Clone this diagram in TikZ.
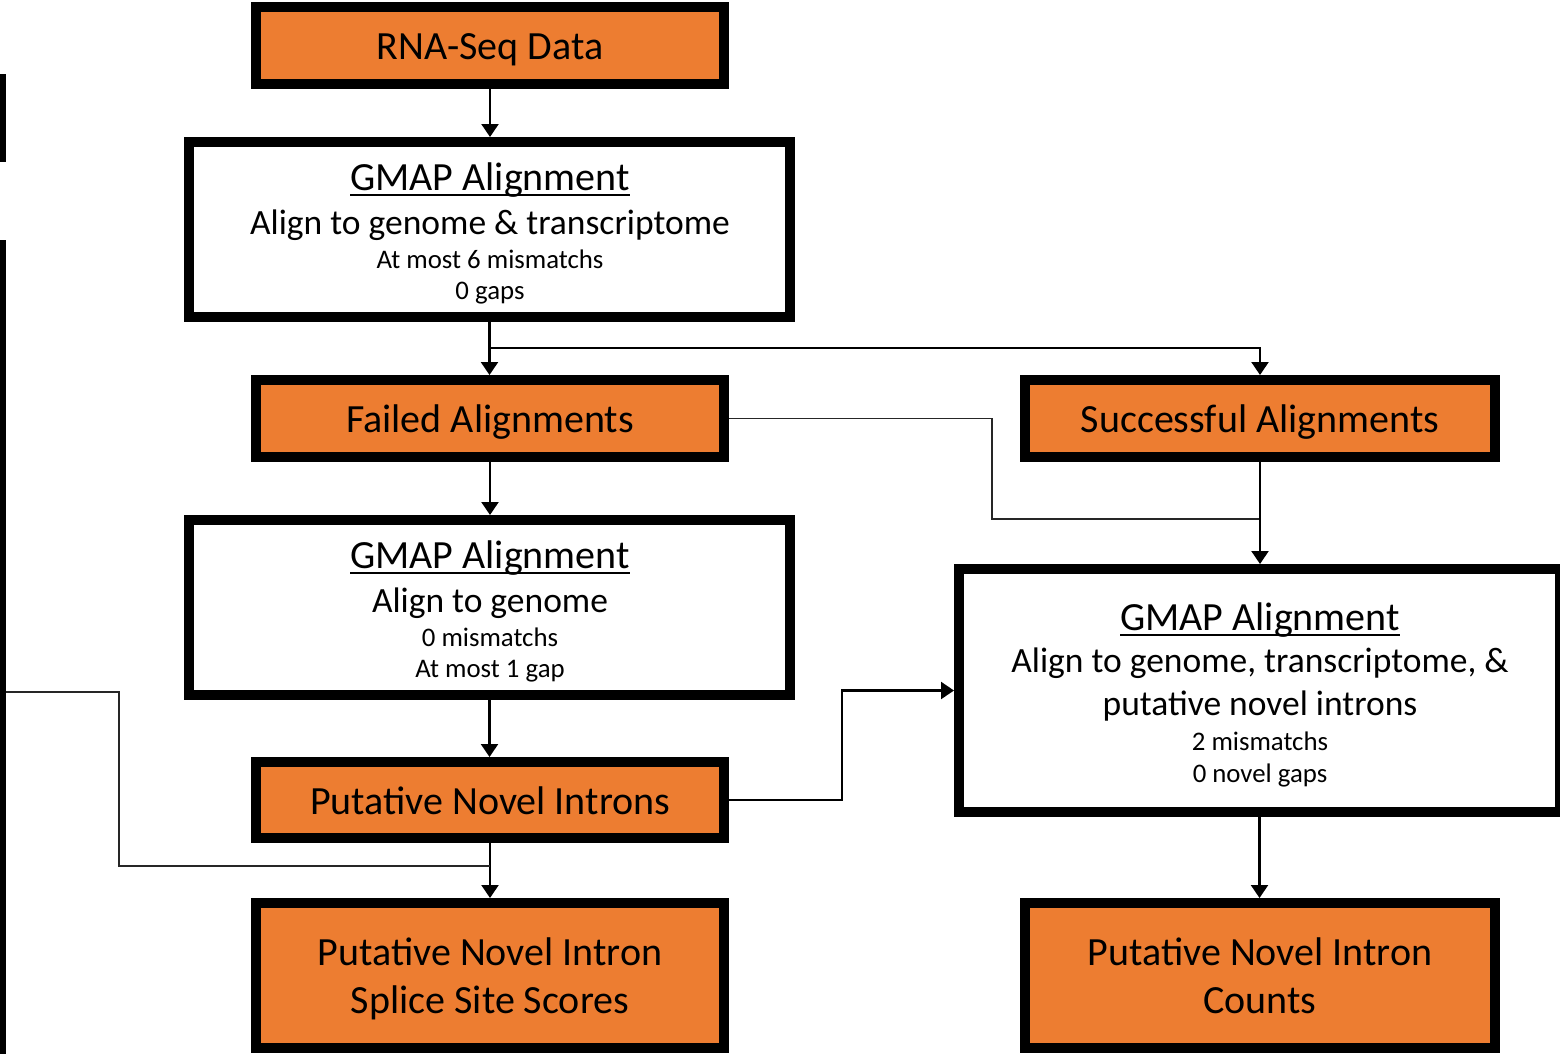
\documentclass[tikz,border=0pt]{standalone}
\usepackage{fontspec}
\setmainfont{Carlito}
\usetikzlibrary{arrows.meta}
\definecolor{boxorange}{HTML}{ED7D31}
\newcommand{\bigtxt}{\fontsize{40}{48}\selectfont}
\newcommand{\midtxt}{\fontsize{35.5}{43}\selectfont}
\newcommand{\smalltxt}{\fontsize{26.8}{32}\selectfont}
\tikzset{
  flowbox/.style={draw=black, line width=10pt, inner sep=0pt, rectangle},
  orangebox/.style={flowbox, fill=boxorange},
  whitebox/.style={flowbox, fill=white},
  btext/.style={anchor=base, inner sep=0pt, font=\bigtxt},
  mtext/.style={anchor=base, inner sep=0pt, font=\midtxt},
  stext/.style={anchor=base, inner sep=0pt, font=\smalltxt},
  ulline/.style={line width=2pt},
  arr/.style={line width=2.2pt, -{Triangle[length=13pt,width=17pt]}},
  thinline/.style={line width=1.4pt, black!85},
}
\begin{document}
\begin{tikzpicture}[x=1pt,y=-1pt]
\useasboundingbox (0,0) rectangle (1560,1053);
% partial shapes cut at left edge
\fill[black] (0,74) rectangle (6,162);
\fill[black] (0,240) rectangle (6,1060);
\coordinate (lft) at (6,692);
% boxes
\node[orangebox, minimum width=468pt, minimum height=77pt] (rna) at (490,45.5) {};
\node[whitebox, minimum width=601pt, minimum height=175pt] (g1) at (489.5,229.5) {};
\node[orangebox, minimum width=468pt, minimum height=77pt] (fail) at (490,418.5) {};
\node[orangebox, minimum width=470pt, minimum height=77pt] (succ) at (1260,418.5) {};
\node[whitebox, minimum width=601pt, minimum height=175pt] (g2) at (489.5,607.5) {};
\node[orangebox, minimum width=468pt, minimum height=76pt] (pni) at (490,800) {};
\node[orangebox, minimum width=468pt, minimum height=145pt] (scores) at (490,975.5) {};
\node[orangebox, minimum width=470pt, minimum height=145pt] (counts) at (1260,975.5) {};
\node[whitebox, minimum width=601pt, minimum height=243pt] (g3) at (1259.5,690.5) {};
% texts
\node[btext] (trna) at (490,59) {RNA-Seq Data};
\node[btext] (tg1a) at (490,190) {GMAP Alignment};
\node[mtext] (tg1b) at (490,234) {Align to genome \& transcriptome};
\node[stext] (tg1c) at (490,268) {At most 6 mismatchs};
\node[stext] (tg1d) at (490,299) {0 gaps};
\node[btext] (tfail) at (490,432) {Failed Alignments};
\node[btext] (tsucc) at (1260,432) {Successful Alignments};
\node[btext] (tg2a) at (490,568) {GMAP Alignment};
\node[mtext] (tg2b) at (490,612) {Align to genome};
\node[stext] (tg2c) at (490,646) {0 mismatchs};
\node[stext] (tg2d) at (490,677) {At most 1 gap};
\node[btext] (tpni) at (490,814) {Putative Novel Introns};
\node[btext] (tg3a) at (1260,630) {GMAP Alignment};
\node[mtext] (tg3b) at (1260,672) {Align to genome, transcriptome, \&};
\node[mtext] (tg3c) at (1260,715) {putative novel introns};
\node[stext] (tg3d) at (1260,750) {2 mismatchs};
\node[stext] (tg3e) at (1260,782) {0 novel gaps};
\node[btext] (tsc1) at (490,965) {Putative Novel Intron};
\node[btext] (tsc2) at (490,1013) {Splice Site Scores};
\node[btext] (tco1) at (1260,965) {Putative Novel Intron};
\node[btext] (tco2) at (1260,1013) {Counts};
% underlines of headings
\foreach \h in {tg1a,tg2a,tg3a}
  \draw[ulline] ([yshift=-5pt]\h.base west) -- ([yshift=-5pt]\h.base east);
% connectors
\coordinate (j1) at (1260,519);
\coordinate (j2) at (490,866);
\draw[arr] (rna.south) -- (rna.south |- g1.north);
\draw[arr] (g1.south) -- (g1.south |- fail.north);
\draw[arr] (g1.south) -- ++(0,26) -| (succ.north);
\draw[thinline] (fail.east) -- ++(263,0) |- (j1);
\draw[arr] (succ.south) -- (succ.south |- g3.north);
\draw[arr] (fail.south) -- (fail.south |- g2.north);
\draw[arr] (g2.south) -- (g2.south |- pni.north);
\draw[arr] (pni.east) -- ++(113,0) |- (g3.west);
\draw[arr] (pni.south) -- (pni.south |- scores.north);
\draw[arr] (g3.south) -- (g3.south |- counts.north);
\draw[thinline] (lft) -| (119,866) -- (j2);
\end{tikzpicture}
\end{document}
